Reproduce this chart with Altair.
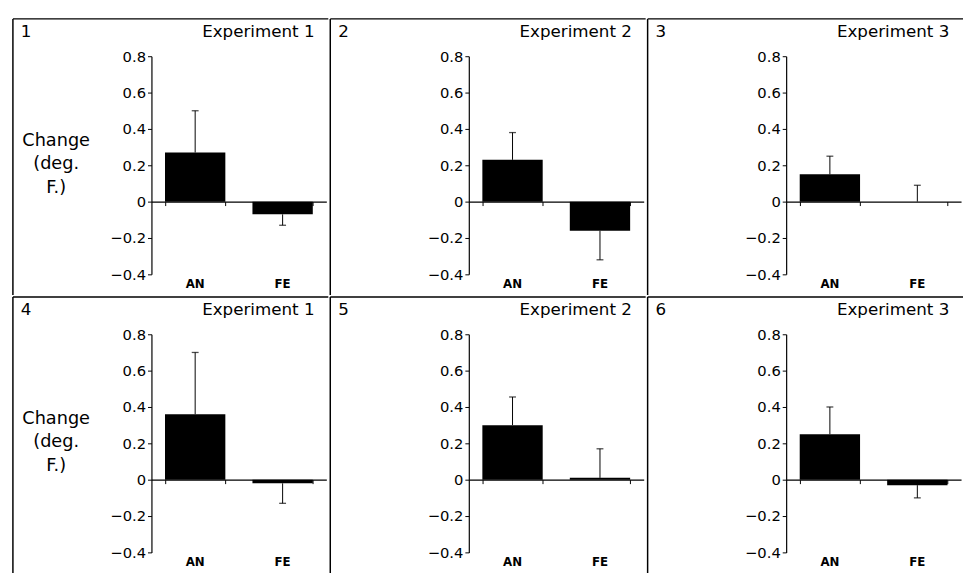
import altair as alt
import pandas as pd

# ---- data ----
panel_numbers = ["1", "2", "3", "4", "5", "6"]
experiment_titles = ["Experiment 1", "Experiment 2", "Experiment 3",
                     "Experiment 1", "Experiment 2", "Experiment 3"]
groups = ["AN", "FE"]
an_values = [0.27, 0.23, 0.15, 0.36, 0.30, 0.25]
an_err_ends = [0.50, 0.38, 0.25, 0.70, 0.455, 0.40]
fe_values = [-0.07, -0.16, 0.00, -0.02, 0.01, -0.03]
fe_err_ends = [-0.13, -0.32, 0.09, -0.13, 0.17, -0.10]
y_ticks = [-0.4, -0.2, 0, 0.2, 0.4, 0.6, 0.8]
y_label_lines = ["Change", "(deg.", "F.)"]
show_y_label = [True, False, False, True, False, False]

W = 178
H = 222
FONT = "DejaVu Sans"


def panel(i):
    df = pd.DataFrame({
        "group": groups,
        "value": [an_values[i], fe_values[i]],
        "err": [an_err_ends[i], fe_err_ends[i]],
    })
    dec = pd.DataFrame({"num": [panel_numbers[i]], "title": [experiment_titles[i]]})

    xs = alt.Scale(domain=groups, paddingInner=0.31, paddingOuter=0.155)
    ys = alt.Scale(domain=[-0.4, 0.8], nice=False, zero=False)
    x_axis = alt.Axis(
        title=None, labels=False, domainColor="black", domainWidth=1.2,
        tickColor="black", tickBand="extent", tickSize=4,
        offset=-H * 0.4 / 1.2, grid=False)
    y_axis = alt.Axis(
        title=None, values=y_ticks,
        labelExpr="datum.value == 0 ? '0' : format(datum.value, '.1f')",
        labelFont=FONT, labelFontSize=15, labelColor="black",
        domainColor="black", domainWidth=1.2, tickColor="black",
        tickSize=4, labelPadding=2, grid=False)

    def X():
        return alt.X("group:N", scale=xs, axis=x_axis)

    bars = alt.Chart(df).mark_bar(color="black").encode(
        x=X(),
        y=alt.Y("value:Q", scale=ys, axis=y_axis),
        y2=alt.datum(0),
    )
    err_rule = alt.Chart(df).mark_rule(color="black", strokeWidth=1).encode(
        x=X(),
        y=alt.Y("value:Q", scale=ys, axis=y_axis),
        y2="err:Q",
    )
    caps = alt.Chart(df).mark_tick(color="black", size=7, thickness=1.3,
                                   orient="horizontal").encode(
        x=X(),
        y=alt.Y("err:Q", scale=ys, axis=y_axis),
    )
    cat_labels = alt.Chart(df).mark_text(
        font=FONT, fontSize=12, fontWeight="bold", baseline="middle",
        color="black").encode(
        x=X(),
        y=alt.value(H + 10),
        text="group:N",
    )
    border_v = alt.Chart(dec).mark_rule(color="black", strokeWidth=1.5).encode(
        x=alt.value(-141), y=alt.value(-38), y2=alt.value(243))
    border_h = alt.Chart(dec).mark_rule(color="black", strokeWidth=1.5).encode(
        x=alt.value(-141), x2=alt.value(180), y=alt.value(-38))
    num_text = alt.Chart(dec).mark_text(
        font=FONT, fontSize=17, align="left", baseline="alphabetic",
        color="black").encode(
        x=alt.value(-133), y=alt.value(-20), text="num:N")
    title_text = alt.Chart(dec).mark_text(
        font=FONT, fontSize=17, align="right", baseline="alphabetic",
        color="black").encode(
        x=alt.value(166), y=alt.value(-20), text="title:N")

    layers = [border_v, border_h, bars, err_rule, caps, cat_labels,
              num_text, title_text]
    if show_y_label[i]:
        ylab = alt.Chart(dec).mark_text(
            font=FONT, fontSize=18, align="center", baseline="alphabetic",
            lineHeight=24, color="black").encode(
            x=alt.value(-97), y=alt.value(91), text=alt.value(y_label_lines))
        layers.append(ylab)
    return alt.layer(*layers).properties(width=W, height=H)


row1 = alt.hconcat(*[panel(i) for i in range(3)], spacing=0)
row2 = alt.hconcat(*[panel(i) for i in range(3, 6)], spacing=0)

chart = alt.vconcat(row1, row2, spacing=0).properties(
    padding={"left": 4, "top": 5, "right": 0, "bottom": 0},
    background="white",
).configure_view(stroke=None)

chart.save("out.html", embed_options={"renderer": "svg", "actions": False})
